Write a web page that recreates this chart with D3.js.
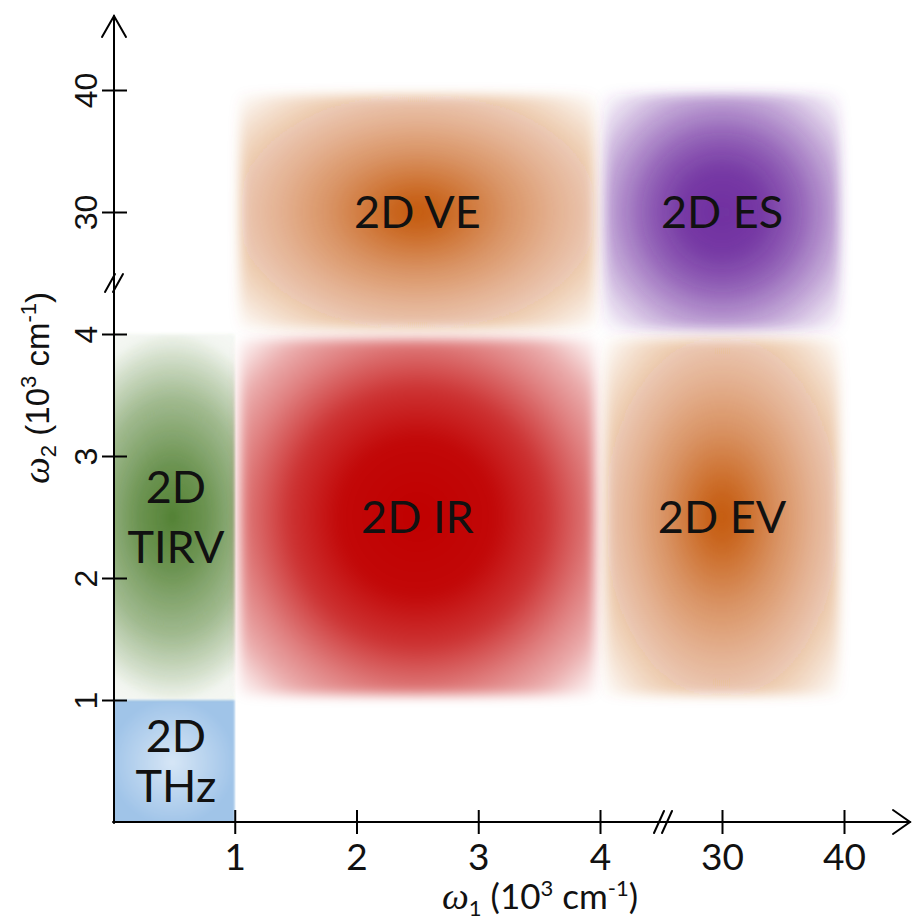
<!DOCTYPE html>
<html>
<head>
<meta charset="utf-8">
<script src="https://cdn.jsdelivr.net/npm/d3@7"></script>
<style>
  html, body { margin: 0; padding: 0; background: #ffffff; }
  svg { display: block; }
</style>
</head>
<body>
<svg id="chart" width="912" height="923"></svg>
<script>
// Axis ticks (units of 10^3 cm^-1); the axes are broken between 4 and 30
const xTickValues = [1, 2, 3, 4, 30, 40];
const yTickValues = [1, 2, 3, 4, 30, 40];

// Spectroscopy regions: omega_1 extent, omega_2 extent and label lines
const regionNames = ["THz", "TIRV", "IR", "VE", "ES", "EV"];
const regionX0 = [0, 0, 1, 1, 4, 4];
const regionX1 = [1, 1, 4, 4, 40, 40];
const regionY0 = [0, 1, 1, 4, 4, 1];
const regionY1 = [1, 4, 4, 40, 40, 4];
const regionLabels = [["2D", "THz"], ["2D", "TIRV"], ["2D IR"], ["2D VE"], ["2D ES"], ["2D EV"]];

// Look of each region: colour, glow stops [offset, opacity] of an elliptical gradient,
// horizontal stretch of the glow, edge inset and softness, line gap of the label
const orangeGlow = [[0, 1], [0.1, 0.93], [0.35, 0.65], [0.55, 0.46], [0.69, 0.34], [0.82, 0.2], [0.92, 0.08], [1, 0]];
const regionStyle = {
  THz:  { color: "#a0c4e8", stops: [[0, 1], [0.72, 1], [1, 1]], inner: "#d6e6f6", r: 0.7, stretchX: 1, inset: 0, blur: 0.8, lineGap: 50 },
  TIRV: { color: "#548235", stops: [[0, 1], [0.2, 0.86], [0.45, 0.55], [0.6, 0.28], [0.7, 0.08], [1, 0]], r: 0.72, stretchX: 1.9, inset: 0, blur: 1.5, lineGap: 60 },
  IR:   { color: "#C00000", stops: [[0, 1], [0.3, 0.97], [0.5, 0.8], [0.69, 0.5], [0.82, 0.32], [0.92, 0.12], [1, 0]], r: 0.72, stretchX: 1, inset: 5, blur: 6, lineGap: 0 },
  VE:   { color: "#C55A11", stops: orangeGlow, r: 0.72, stretchX: 1, inset: 5, blur: 6, lineGap: 0 },
  ES:   { color: "#7030A0", stops: [[0, 1], [0.25, 0.95], [0.45, 0.76], [0.69, 0.42], [0.82, 0.22], [0.92, 0.08], [1, 0]], r: 0.72, stretchX: 1, inset: 4, blur: 6, lineGap: 0 },
  EV:   { color: "#C55A11", stops: orangeGlow, r: 0.72, stretchX: 1, inset: 5, blur: 6, lineGap: 0 }
};

const svg = d3.select("#chart");
const defs = svg.append("defs");

// Piecewise scales: equal spacing per tick, with the break after 4
const x = d3.scaleLinear().domain([0, 4, 30, 40]).range([113, 600, 722, 844]);
const y = d3.scaleLinear().domain([0, 4, 30, 40]).range([822, 334, 212, 90]);

const regions = regionNames.map((name, i) => ({
  name, x0: regionX0[i], x1: regionX1[i], y0: regionY0[i], y1: regionY1[i],
  label: regionLabels[i], style: regionStyle[name]
}));

const regionLayer = svg.append("g").attr("class", "regions");

regions.forEach((r, i) => {
  const s = r.style;
  const atAxisX = r.x0 === 0, atAxisY = r.y0 === 0;
  const left = x(r.x0) + (atAxisX ? -3 : s.inset);
  const right = x(r.x1) - s.inset;
  const top = y(r.y1) + s.inset;
  const bottom = y(r.y0) - (atAxisY ? -3 : s.inset);

  // elliptical glow centred in the region
  const rg = defs.append("radialGradient").attr("id", "rg" + i)
    .attr("cx", 0.5).attr("cy", 0.5).attr("r", s.r)
    .attr("gradientTransform", `translate(0.5,0.5) scale(${s.stretchX},1) translate(-0.5,-0.5)`);
  rg.selectAll("stop").data(s.stops).join("stop")
    .attr("offset", d => d[0])
    .attr("stop-color", (d, k) => (s.inner && k === 0) ? s.inner : s.color)
    .attr("stop-opacity", d => d[1]);

  defs.append("filter").attr("id", "soft" + i)
    .attr("x", "-15%").attr("y", "-15%").attr("width", "130%").attr("height", "130%")
    .append("feGaussianBlur").attr("stdDeviation", s.blur);

  // the far-left column is cut off by the axis and by its neighbour
  const clipX0 = atAxisX ? x(0) : left - 30;
  const clipX1 = atAxisX ? x(r.x1) + 1 : right + 30;
  const clipY1 = atAxisY ? y(0) : bottom + 30;
  defs.append("clipPath").attr("id", "clip" + i)
    .append("rect")
    .attr("x", clipX0).attr("y", top - 30)
    .attr("width", clipX1 - clipX0).attr("height", clipY1 - (top - 30));

  regionLayer.append("g").attr("clip-path", `url(#clip${i})`)
    .append("rect")
    .attr("x", left).attr("y", top)
    .attr("width", right - left).attr("height", bottom - top)
    .attr("fill", `url(#rg${i})`)
    .attr("filter", `url(#soft${i})`);
});

// Region labels, centred in each region
const labelLayer = svg.append("g").attr("class", "labels")
  .attr("font-family", "Lato, 'Open Sans', sans-serif")
  .attr("font-size", 45)
  .attr("fill", "#111111")
  .attr("text-anchor", "middle");

regions.forEach(r => {
  const cx = (x(r.x0) + x(r.x1)) / 2;
  const cy = (y(r.y0) + y(r.y1)) / 2;
  const n = r.label.length;
  r.label.forEach((line, k) => {
    labelLayer.append("text")
      .attr("x", cx + (n > 1 ? 2 : 0))
      .attr("y", cy + (k - (n - 1) / 2) * r.style.lineGap)
      .attr("dy", "0.36em")
      .text(line);
  });
});

// Axes
const axisColor = "#000000";
const tickHalf = 12;

const xAxis = d3.axisBottom(x).tickValues(xTickValues).tickFormat(d3.format("d"))
  .tickSizeInner(tickHalf).tickSizeOuter(0).tickPadding(10);
const gX = svg.append("g").attr("transform", `translate(0,${y(0)})`).call(xAxis);
gX.select(".domain").remove();
gX.selectAll(".tick line").attr("y1", -tickHalf).attr("stroke", axisColor).attr("stroke-width", 2);
gX.selectAll(".tick text")
  .attr("font-family", "Lato, 'Open Sans', sans-serif")
  .attr("font-size", 37).attr("fill", "#111111");

const yAxis = d3.axisLeft(y).tickValues(yTickValues).tickFormat(d3.format("d"))
  .tickSizeInner(tickHalf).tickSizeOuter(0).tickPadding(4);
const gY = svg.append("g").attr("transform", `translate(${x(0) + 1},0)`).call(yAxis);
gY.select(".domain").remove();
gY.selectAll(".tick line").attr("x1", tickHalf + 1).attr("stroke", axisColor).attr("stroke-width", 2);
gY.selectAll(".tick text")
  .attr("font-family", "'Liberation Sans', Arial, sans-serif")
  .attr("font-size", 32).attr("fill", "#111111")
  .attr("transform", "rotate(-90)")
  .attr("x", 0).attr("y", -17).attr("dy", 0)
  .attr("text-anchor", "middle");

// Axis lines with open arrowheads
const xAxisY = y(0);
const yAxisX = x(0) + 1;
const axisLines = svg.append("g").attr("stroke", axisColor).attr("stroke-width", 2)
  .attr("fill", "none").attr("stroke-linecap", "round");
axisLines.append("line").attr("x1", yAxisX - 1).attr("y1", xAxisY).attr("x2", 910).attr("y2", xAxisY);
axisLines.append("path").attr("d", `M${893},${xAxisY - 12}L${910},${xAxisY}L${893},${xAxisY + 12}`);
axisLines.append("line").attr("x1", yAxisX).attr("y1", xAxisY + 1).attr("x2", yAxisX).attr("y2", 16);
axisLines.append("path").attr("d", `M${yAxisX - 12},${37}L${yAxisX},${16}L${yAxisX + 12},${37}`);

// Break marks on both axes, midway between 4 and 30
const xBreak = (x(4) + x(30)) / 2 + 2;
const yBreak = (y(4) + y(30)) / 2 + 10;
[-4, 4].forEach(d => {
  axisLines.append("line")
    .attr("x1", xBreak + d - 5).attr("y1", xAxisY + 11)
    .attr("x2", xBreak + d + 5).attr("y2", xAxisY - 11);
  axisLines.append("line")
    .attr("x1", yAxisX - 5 + d).attr("y1", yBreak + 9)
    .attr("x2", yAxisX + 5 + d).attr("y2", yBreak - 9);
});

// Axis titles
function addTitle(sel, sub) {
  sel.append("tspan").attr("font-family", "'Liberation Serif', serif").attr("font-style", "italic")
    .attr("font-size", 38).text("ω");
  sel.append("tspan").attr("font-size", 22).attr("dy", 7).text(sub);
  sel.append("tspan").attr("dy", -7).text(" (10");
  sel.append("tspan").attr("font-size", 22).attr("dy", -13).text("3");
  sel.append("tspan").attr("dy", 13).text(" cm");
  sel.append("tspan").attr("font-size", 22).attr("dy", -13).text("-1");
  sel.append("tspan").attr("dy", 13).text(")");
}

const xTitle = svg.append("text")
  .attr("x", 540).attr("y", 909)
  .attr("text-anchor", "middle")
  .attr("font-family", "Lato, 'Open Sans', sans-serif")
  .attr("font-size", 35).attr("fill", "#111111");
addTitle(xTitle, "1");

const yTitle = svg.append("text")
  .attr("transform", "translate(49,388) rotate(-90)")
  .attr("text-anchor", "middle")
  .attr("font-family", "'Liberation Sans', Arial, sans-serif")
  .attr("font-size", 33).attr("fill", "#111111");
addTitle(yTitle, "2");
</script>
</body>
</html>
